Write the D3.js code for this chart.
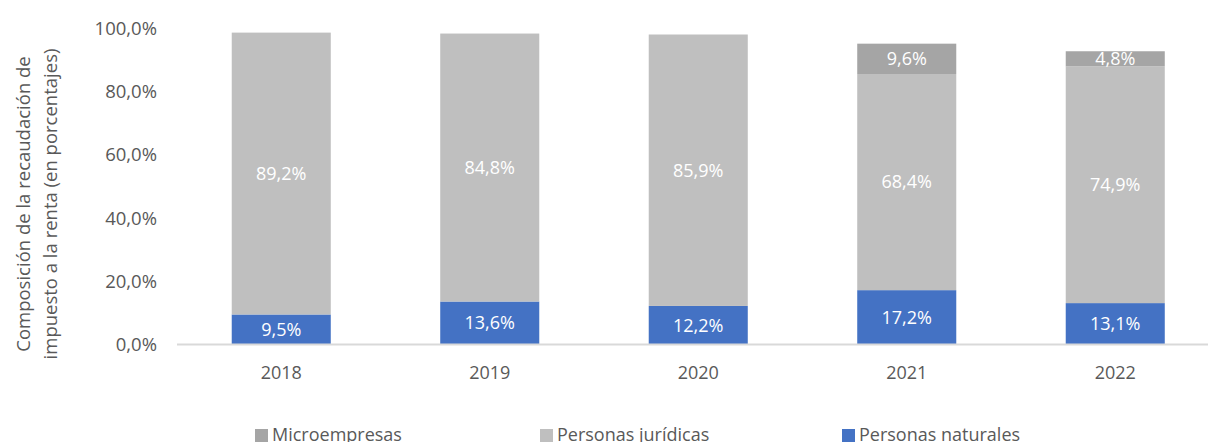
<!DOCTYPE html>
<html><head><meta charset="utf-8">
<script src="https://cdn.jsdelivr.net/npm/d3@7"></script>
<style>body{margin:0;background:#fff}svg{display:block;font-family:"Open Sans",sans-serif}</style>
</head><body><svg id="c" width="1208" height="442"></svg>
<script>
const years = ["2018","2019","2020","2021","2022"];
const naturales = [9.5,13.6,12.2,17.2,13.1];
const juridicas = [89.2,84.8,85.9,68.4,74.9];
const micro = [0,0,0,9.6,4.8];
const seriesNames = ["Personas naturales","Personas jurídicas","Microempresas"];
const yTicks = [0,20,40,60,80,100];
const colors = {"Personas naturales":"#4472C4","Personas jurídicas":"#BFBFBF","Microempresas":"#A5A5A5"};

const svg = d3.select("#c");
const x = d3.scaleBand().domain(years).range([177,1219.5]).paddingInner(0.525).paddingOuter(0.2625);
const y = d3.scaleLinear().domain([0,100]).range([344.5,28.5]);
const fmt = v => d3.format(".1f")(v).replace(".",",") + "%";

const rows = years.map((yr,i)=>({year:yr,"Personas naturales":naturales[i],"Personas jurídicas":juridicas[i],"Microempresas":micro[i]}));
const stack = d3.stack().keys(seriesNames)(rows);

// y axis labels
const ya = svg.append("g").attr("transform","translate(157,0)")
  .call(d3.axisLeft(y).tickValues(yTicks).tickSize(0).tickPadding(0).tickFormat(fmt));
ya.select(".domain").remove();
ya.selectAll("text").attr("font-size",18.5).attr("fill","#595959").attr("font-family","Open Sans");

// bars
stack.forEach(s=>{
  const g = svg.append("g");
  s.forEach((d,i)=>{
    const v = d[1]-d[0];
    if(v<=0) return;
    g.append("rect").attr("x",x(years[i])).attr("width",x.bandwidth())
      .attr("y",y(d[1])).attr("height",y(d[0])-y(d[1])).attr("fill",colors[s.key]);
    g.append("text").attr("x",x(years[i])+x.bandwidth()/2).attr("y",(y(d[0])+y(d[1]))/2)
      .attr("dy","0.35em").attr("text-anchor","middle").attr("font-size",18).attr("fill","#fff")
      .text(fmt(v));
  });
});

// x axis
const xa = svg.append("g").attr("transform","translate(0,344.5)")
  .call(d3.axisBottom(x).tickSize(0).tickPadding(22));
xa.select(".domain").attr("stroke","#D9D9D9").attr("stroke-width",2).attr("d","M177,0H1208");
xa.selectAll("text").attr("font-size",18).attr("fill","#595959").attr("font-family","Open Sans");

// y title
const t = svg.append("text").attr("transform","translate(34,204) rotate(-90)")
  .attr("text-anchor","middle").attr("font-size",18.5).attr("fill","#595959");
t.append("tspan").attr("x",0).attr("dy","-0.2em").text("Composición de la recaudación de");
t.append("tspan").attr("x",0).attr("dy","1.45em").text("impuesto a la renta (en porcentajes)");

// legend
const legendOrder = ["Microempresas","Personas jurídicas","Personas naturales"];
const legendX = [255,540,842];
legendOrder.forEach((k,i)=>{
  svg.append("rect").attr("x",legendX[i]).attr("y",429).attr("width",13).attr("height",13).attr("fill",colors[k]);
  svg.append("text").attr("x",legendX[i]+17).attr("y",441).attr("font-size",18).attr("fill","#595959").text(k);
});
</script></body></html>
